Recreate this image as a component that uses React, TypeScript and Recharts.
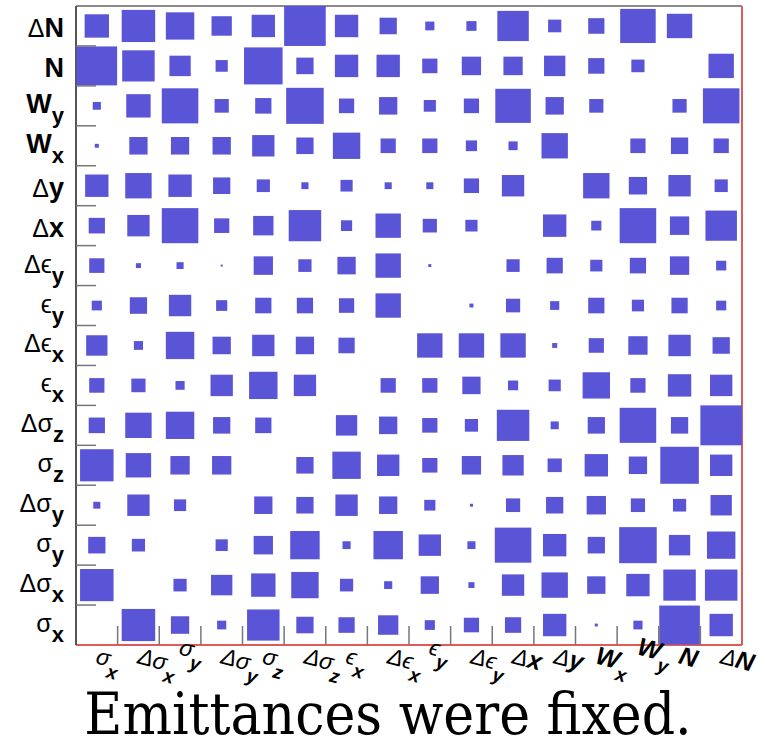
import React from 'react'
import { ScatterChart, Scatter, XAxis, YAxis } from 'recharts'

// parameter labels, same order on both axes (x: left->right, y: bottom->top)
const labels = [
  { base: 'σ', sub: 'x' },
  { base: 'Δσ', sub: 'x' },
  { base: 'σ', sub: 'y' },
  { base: 'Δσ', sub: 'y' },
  { base: 'σ', sub: 'z' },
  { base: 'Δσ', sub: 'z' },
  { base: 'ϵ', sub: 'x' },
  { base: 'Δϵ', sub: 'x' },
  { base: 'ϵ', sub: 'y' },
  { base: 'Δϵ', sub: 'y' },
  { base: 'Δx', sub: '' },
  { base: 'Δy', sub: '' },
  { base: 'W', sub: 'x' },
  { base: 'W', sub: 'y' },
  { base: 'N', sub: '' },
  { base: 'ΔN', sub: '' },
]

// box content per row, columns in label order (max ~41 = full cell)
const rowSigmaX = [0, 33, 18, 9, 32, 17, 16, 20, 10, 15, 16, 23, 3, 9, 40, 23]
const rowDSigmaX = [33, 0, 13, 21, 24, 27, 13, 8, 18, 6, 22, 26, 18, 23, 32, 32]
const rowSigmaY = [17, 13, 0, 12, 19, 29, 8, 29, 22, 8, 36, 23, 17, 37, 21, 28]
const rowDSigmaY = [7, 22, 12, 0, 18, 17, 22, 18, 11, 3, 14, 17, 19, 14, 13, 21]
const rowSigmaZ = [33, 25, 19, 19, 0, 17, 28, 22, 15, 19, 21, 14, 23, 18, 38, 22]
const rowDSigmaZ = [16, 26, 28, 17, 16, 0, 21, 18, 15, 13, 32, 8, 17, 36, 17, 41]
const rowEpsX = [15, 14, 9, 22, 28, 22, 0, 15, 15, 18, 10, 12, 27, 15, 23, 22]
const rowDEpsX = [21, 9, 28, 18, 22, 18, 16, 0, 25, 25, 25, 5, 15, 19, 22, 17]
const rowEpsY = [10, 17, 22, 11, 16, 16, 15, 25, 0, 4, 14, 9, 16, 12, 16, 10]
const rowDEpsY = [15, 5, 7, 2, 19, 13, 18, 25, 3, 0, 13, 16, 12, 16, 19, 10]
const rowDX = [16, 22, 36, 15, 20, 32, 11, 25, 14, 12, 0, 23, 10, 36, 19, 31]
const rowDY = [23, 26, 23, 17, 13, 7, 12, 7, 7, 15, 22, 0, 26, 18, 22, 13]
const rowWX = [4, 18, 18, 18, 22, 17, 27, 15, 15, 11, 9, 26, 0, 15, 17, 15]
const rowWY = [8, 24, 36, 14, 16, 37, 15, 18, 12, 15, 35, 18, 14, 0, 14, 36]
const rowN = [40, 32, 21, 12, 38, 17, 23, 23, 15, 19, 19, 21, 16, 13, 0, 25]
const rowDN = [24, 33, 28, 20, 23, 41, 23, 17, 9, 10, 31, 13, 16, 35, 25, 0]

const rows = [
  rowSigmaX, rowDSigmaX, rowSigmaY, rowDSigmaY, rowSigmaZ, rowDSigmaZ,
  rowEpsX, rowDEpsX, rowEpsY, rowDEpsY, rowDX, rowDY, rowWX, rowWY, rowN, rowDN,
]

const W = 765
const H = 741
const PLOT_LEFT = 76
const PLOT_TOP = 6
const PLOT_RIGHT = 742
const PLOT_BOTTOM = 645
const N_CELLS = 16
const CELL_W = (PLOT_RIGHT - PLOT_LEFT) / N_CELLS
const CELL_H = (PLOT_BOTTOM - PLOT_TOP) / N_CELLS
const MAX_V = 41
const BOX = '#5a55d6'
const TICK = '#777'
const SANS = "'Liberation Sans', Arial, 'DejaVu Sans', sans-serif"

const points: { col: number; row: number; v: number }[] = []
rows.forEach((vals, r) => {
  vals.forEach((v, c) => {
    if (v > 0) points.push({ col: c + 0.5, row: r + 0.5, v })
  })
})

const centers = labels.map((_, i) => i + 0.5)

const isLatin = (ch: string) => /[A-Za-z]/.test(ch)

function baseParts(base: string, size: number) {
  return base.split('').map((ch, i) => (
    <tspan key={i} fontWeight={isLatin(ch) ? 'bold' : 'normal'} fontSize={isLatin(ch) ? size + 2 : size}>
      {ch}
    </tspan>
  ))
}

function YTick(props: any) {
  const { y, payload } = props
  const idx = Math.floor(payload.value)
  const lab = labels[idx]
  return (
    <g>
      {idx > 0 && (
        <line
          x1={PLOT_LEFT}
          x2={PLOT_LEFT + 20}
          y1={y + CELL_H / 2}
          y2={y + CELL_H / 2}
          stroke={TICK}
          strokeWidth={1.5}
        />
      )}
      <text x={PLOT_LEFT - 12} y={y + (lab.sub ? 7 : 11)} textAnchor="end" fontFamily={SANS} fill="#000">
        {baseParts(lab.base, 25)}
        {lab.sub && (
          <tspan dy={10} fontSize={22} fontWeight="bold">
            {lab.sub}
          </tspan>
        )}
      </text>
    </g>
  )
}

function XTick(props: any) {
  const { x, payload } = props
  const idx = Math.floor(payload.value)
  const lab = labels[idx]
  const lift = lab.sub === 'y' && !lab.base.startsWith('Δ') ? -9 : 0
  return (
    <g>
      {idx < N_CELLS - 1 && (
        <line
          x1={x + CELL_W / 2}
          x2={x + CELL_W / 2}
          y1={PLOT_BOTTOM - 19}
          y2={PLOT_BOTTOM}
          stroke={TICK}
          strokeWidth={1.5}
        />
      )}
      <text
        transform={`translate(${x - 2},${PLOT_BOTTOM + 18 + lift}) rotate(15)`}
        fontFamily={SANS}
        fontStyle="italic"
        fill="#000"
      >
        {baseParts(lab.base, 23)}
        {lab.sub && (
          <tspan dy={11} fontSize={19} fontWeight="bold">
            {lab.sub}
          </tspan>
        )}
      </text>
    </g>
  )
}

function Box(props: any) {
  const { cx, cy, payload } = props
  const w = (payload.v / MAX_V) * CELL_W
  const h = (payload.v / MAX_V) * CELL_H
  return <rect x={cx - w / 2} y={cy - h / 2} width={w} height={h} fill={BOX} />
}

export default function App() {
  return (
    <div style={{ position: 'absolute', left: 0, top: 0, width: W, height: H, background: '#fff' }}>
      <ScatterChart
        width={W}
        height={H}
        margin={{ top: PLOT_TOP, right: W - PLOT_RIGHT, bottom: H - PLOT_BOTTOM - 60, left: 0 }}
      >
        <XAxis
          xAxisId="x"
          type="number"
          dataKey="col"
          domain={[0, N_CELLS]}
          allowDataOverflow
          ticks={centers}
          interval={0}
          height={60}
          tickLine={false}
          tick={<XTick />}
          axisLine={{ stroke: '#e05a5a', strokeWidth: 2 }}
        />
        <XAxis
          xAxisId="top"
          orientation="top"
          type="number"
          domain={[0, N_CELLS]}
          mirror
          tick={false}
          tickLine={false}
          axisLine={{ stroke: '#8a8a8a', strokeWidth: 2 }}
        />
        <YAxis
          yAxisId="y"
          type="number"
          dataKey="row"
          domain={[0, N_CELLS]}
          allowDataOverflow
          ticks={centers}
          interval={0}
          width={PLOT_LEFT}
          tickLine={false}
          tick={<YTick />}
          axisLine={{ stroke: '#555', strokeWidth: 2 }}
        />
        <YAxis
          yAxisId="right"
          orientation="right"
          type="number"
          domain={[0, N_CELLS]}
          mirror
          tick={false}
          tickLine={false}
          axisLine={{ stroke: '#e05a5a', strokeWidth: 2 }}
        />
        <Scatter
          xAxisId="x"
          yAxisId="y"
          data={points}
          shape={<Box />}
          isAnimationActive={false}
        />
      </ScatterChart>
      <svg width={W} height={H} style={{ position: 'absolute', left: 0, top: 0, pointerEvents: 'none' }}>
        <text
          x={388}
          y={734}
          textAnchor="middle"
          fontFamily="'DejaVu Serif Condensed', 'DejaVu Serif', serif"
          fontStretch="condensed"
          fontSize={58}
          fill="#000"
        >
          Emittances were fixed.
        </text>
      </svg>
    </div>
  )
}
